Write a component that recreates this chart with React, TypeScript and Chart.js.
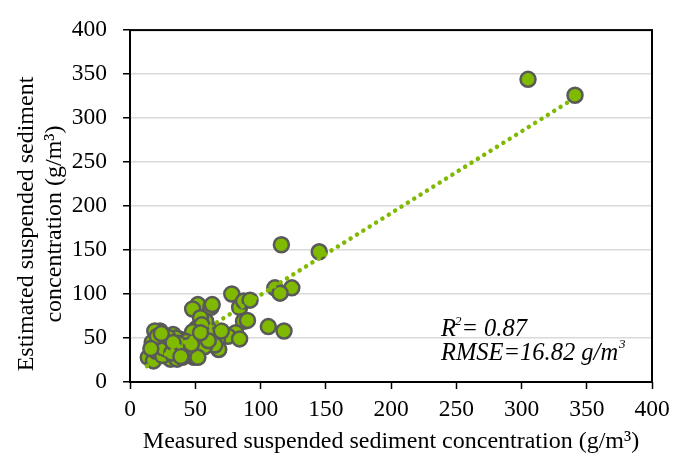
import React, { useEffect, useRef } from "react";
import { Chart, registerables } from "chart.js";

Chart.register(...registerables);

const measured = [305, 341, 145, 116, 124, 111, 115, 106, 118, 78, 52, 48, 62, 63, 84, 87, 92, 87, 90, 81, 75, 84, 67, 68, 62, 58, 54, 51, 50, 53, 51, 49, 42, 38, 38, 31, 28, 24, 23, 19, 17, 14, 18, 20, 28, 36, 41, 33, 30, 30, 45, 47, 56, 60, 44, 25, 34, 22, 27, 40, 55, 70, 65, 48, 57, 35, 26, 32, 21, 46, 52, 40, 43, 37, 29, 60, 54, 16, 39, 47, 33, 24];
const estimated = [344, 326, 148, 156, 107, 107, 101, 63, 58, 100, 88, 83, 85, 88, 85, 92, 93, 69, 70, 56, 52, 49, 48, 37, 59, 69, 73, 61, 52, 48, 37, 28, 45, 49, 35, 26, 41, 48, 58, 58, 45, 28, 24, 35, 36, 26, 35, 54, 47, 42, 40, 50, 45, 55, 30, 30, 40, 42, 50, 43, 65, 58, 42, 57, 40, 50, 38, 33, 52, 36, 28, 28, 46, 44, 51, 47, 56, 38, 29, 43, 45, 55];

const trendX = [13, 341];
const trendY = [18, 323];

const axisTicks = [0, 50, 100, 150, 200, 250, 300, 350, 400];

const xTitle = "Measured suspended sediment concentration (g/m\u00B3)";
const yTitleLines = ["Estimated suspended sediment", "concentration (g/m\u00B3)"];
const r2Label = "0.87";
const rmseLabel = "16.82";

const SERIF = '"Liberation Serif", "Times New Roman", serif';

const framePlugin = {
  id: "frameAndText",
  afterDraw(chart: any) {
    const { ctx, chartArea } = chart;
    const { left, right, top, bottom } = chartArea;
    ctx.save();
    ctx.strokeStyle = "#000";
    ctx.lineWidth = 2;
    ctx.strokeRect(left, top, right - left, bottom - top);

    // y-axis title
    ctx.fillStyle = "#000";
    ctx.font = `24px ${SERIF}`;
    ctx.textAlign = "center";
    ctx.textBaseline = "middle";
    const cy = 224;
    yTitleLines.forEach((line, i) => {
      ctx.save();
      ctx.translate(27 + i * 28, cy);
      ctx.rotate(-Math.PI / 2);
      ctx.fillText(line, 0, 0);
      ctx.restore();
    });

    // annotation
    ctx.textAlign = "left";
    ctx.textBaseline = "alphabetic";
    const big = `italic 24.5px ${SERIF}`;
    const small = `italic 13px ${SERIF}`;
    let x = 441;
    let y = 336;
    ctx.font = big;
    ctx.fillText("R", x, y);
    x += ctx.measureText("R").width;
    ctx.font = small;
    ctx.fillText("2", x - 1, y - 11);
    x += ctx.measureText("2").width - 1;
    ctx.font = big;
    ctx.fillText("= " + r2Label, x, y);

    x = 441;
    y = 360;
    const t = "RMSE=" + rmseLabel + " g/m";
    ctx.fillText(t, x, y);
    x += ctx.measureText(t).width;
    ctx.font = small;
    ctx.fillText("3", x + 1, y - 12);
    ctx.restore();
  },
};

export default function App() {
  const ref = useRef<HTMLCanvasElement>(null);
  useEffect(() => {
    if (!ref.current) return;
    const points = measured.map((m, i) => ({ x: m, y: estimated[i] }));
    const trend = trendX.map((v, i) => ({ x: v, y: trendY[i] }));
    const chart = new Chart(ref.current, {
      type: "scatter",
      data: {
        datasets: [
          {
            type: "line",
            label: "Trend",
            data: trend,
            borderColor: "#7fba00",
            borderWidth: 4.5,
            borderDash: [0.01, 7.5],
            borderCapStyle: "round",
            pointRadius: 0,
            showLine: true,
            fill: false,
            order: 0,
          } as any,
          {
            label: "Samples",
            data: points,
            backgroundColor: "#7fba00",
            borderColor: "#595959",
            borderWidth: 2.5,
            pointRadius: 7.5,
            order: 1,
          },
        ],
      },
      options: {
        responsive: false,
        animation: false,
        devicePixelRatio: 1,
        layout: { padding: { top: 21, right: 27, left: 0, bottom: 0 } },
        plugins: { legend: { display: false }, tooltip: { enabled: false } },
        scales: {
          x: {
            type: "linear",
            min: 0,
            max: 400,
            afterFit: (s: any) => {
              s.height = 76;
            },
            afterBuildTicks: (s: any) => {
              s.ticks = axisTicks.map((v) => ({ value: v }));
            },
            border: { display: false },
            grid: {
              drawOnChartArea: false,
              drawTicks: true,
              tickLength: 7,
              tickColor: "#000",
              tickWidth: 1.5,
            },
            ticks: {
              color: "#000",
              padding: 7,
              font: { family: SERIF, size: 23.5 },
            },
            title: {
              display: true,
              text: xTitle,
              color: "#000",
              font: { family: SERIF, size: 24 },
              padding: { top: 0, bottom: 2 },
            },
          },
          y: {
            type: "linear",
            min: 0,
            max: 400,
            afterFit: (s: any) => {
              s.width = 130;
            },
            afterBuildTicks: (s: any) => {
              s.ticks = axisTicks.map((v) => ({ value: v }));
            },
            border: { display: false },
            grid: {
              color: "#d9d9d9",
              lineWidth: 1.5,
              drawTicks: true,
              tickLength: 7,
              tickColor: "#000",
              tickWidth: 1.5,
            },
            ticks: {
              color: "#000",
              padding: 16,
              font: { family: SERIF, size: 23.5 },
            },
          },
        },
      },
      plugins: [framePlugin],
    });
    return () => chart.destroy();
  }, []);
  return (
    <div style={{ position: "fixed", left: 0, top: 0, width: 679, height: 458, background: "#fff" }}>
      <canvas ref={ref} width={679} height={458} />
    </div>
  );
}
